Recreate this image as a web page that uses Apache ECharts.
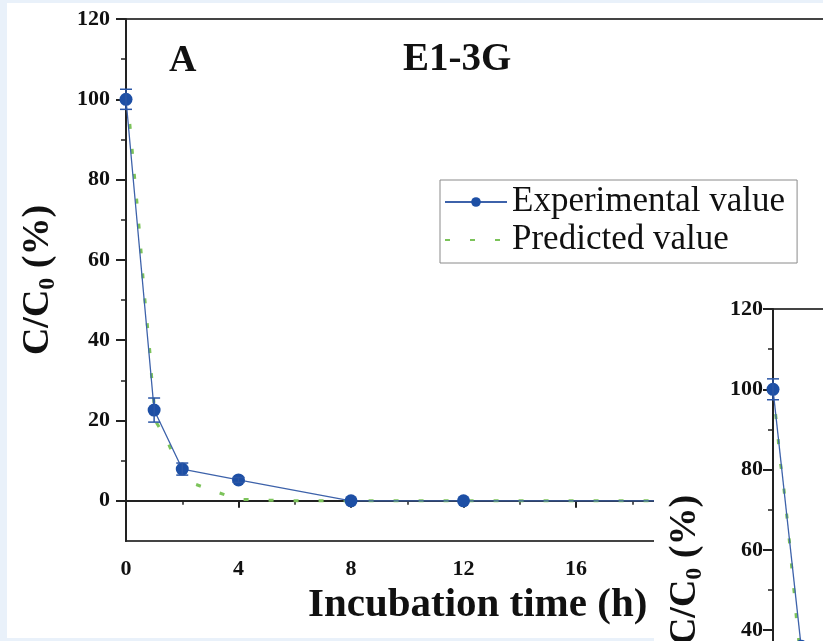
<!DOCTYPE html>
<html><head><meta charset="utf-8">
<script src="https://cdn.jsdelivr.net/npm/echarts@6/dist/echarts.min.js"></script>
<style>
html,body{margin:0;padding:0;background:#e9f1fa;width:823px;height:641px;overflow:hidden;}
#c{position:absolute;left:0;top:0;width:823px;height:641px;}
</style>
</head><body><div id="c"></div>
<script>
// ---- data ----
const timeExpA  = [0, 1, 2, 4, 8, 12, 24];
const valueExpA = [100, 22.6, 7.9, 5.2, 0, 0, 0];
const errorExpA = [2.5, 3.0, 1.5, 0.6, 0, 0, 0];
const timePredA  = [0, 0.12, 0.2, 0.26, 0.34, 0.42, 0.56, 0.62, 0.7, 0.77, 0.85, 0.91, 1.0, 1.09, 1.5, 1.8, 2.28, 3.1, 3.96, 4.8, 6, 8, 12, 16, 20, 26];
const valuePredA = [100, 95, 89, 84, 78, 72, 60, 54, 48, 43, 37, 31, 24, 19.4, 14.4, 9.4, 4.6, 2.5, 0.4, 0.2, 0, 0, 0, 0, 0, 0];

const timeExpB  = [0, 1];
const valueExpB = [100, 36];
const errorExpB = [2.6, 0];
const timePredB  = [0, 0.08, 0.17, 0.24, 0.36, 0.45, 0.54, 0.62, 0.69, 0.77, 0.84, 1.0];
const valuePredB = [100, 94.6, 88.8, 82.9, 77, 71.2, 65.3, 59.5, 53.6, 48.2, 42.3, 32];

const yMajorTicks = [0, 20, 40, 60, 80, 100, 120];
const yMinorTicks = [10, 30, 50, 70, 90, 110];
const seriesNames = ['Experimental value', 'Predicted value'];
const panelTitle = 'A';
const sampleTitle = 'E1-3G';
const xTitle = 'Incubation time (h)';
const yTitle = '{a|C/C}{s|0}{a| (%)}';

// ---- styles ----
const FONT = 'Liberation Serif';
const INK = '#111';
const BLUE = '#1d4fa5';
const BLUE_LINE = '#3d62aa';
const GREEN = '#7cc35a';
const pxPerX = 28.125;
const xMax = 26;
const gridW = xMax * pxPerX;
const gridH = 130 * 4.015;

function pairs(xs, ys) { return xs.map((x, i) => [x, ys[i]]); }
function errData(xs, ys, es) {
  const out = [];
  xs.forEach((x, i) => { if (es[i] > 0) out.push([x, ys[i], es[i]]); });
  return out;
}
function errRender(params, api) {
  const x = api.value(0), v = api.value(1), e = api.value(2);
  const top = api.coord([x, v + e]), bot = api.coord([x, v - e]);
  const hw = 6;
  const style = { stroke: '#2b56a6', lineWidth: 1.5 };
  return { type: 'group', children: [
    { type: 'line', shape: { x1: top[0], y1: top[1], x2: bot[0], y2: bot[1] }, style },
    { type: 'line', shape: { x1: top[0] - hw, y1: top[1], x2: top[0] + hw, y2: top[1] }, style },
    { type: 'line', shape: { x1: bot[0] - hw, y1: bot[1], x2: bot[0] + hw, y2: bot[1] }, style }
  ]};
}

const tickLabel = { fontFamily: FONT, fontWeight: 'bold', fontSize: 22, color: INK };
const richY = {
  a: { fontFamily: FONT, fontWeight: 'bold', fontSize: 38, lineHeight: 44, color: INK },
  s: { fontFamily: FONT, fontWeight: 'bold', fontSize: 24, lineHeight: 24, verticalAlign: 'bottom', color: INK }
};

function xAxisFor(gi, z, showName) {
  return {
    type: 'value', gridIndex: gi, min: 0, max: xMax, interval: 4, z: z,
    axisLine: { show: true, lineStyle: { color: '#222', width: 2 } },
    axisTick: { show: true, length: 7, lineStyle: { color: '#222', width: 2 } },
    minorTick: { show: true, splitNumber: 2, length: 4, lineStyle: { color: '#222', width: 1.5 } },
    splitLine: { show: false }, minorSplitLine: { show: false },
    axisLabel: Object.assign({ margin: 17 }, tickLabel),
    name: showName ? xTitle : '', nameLocation: 'middle', nameGap: 43,
    nameTextStyle: { fontFamily: FONT, fontWeight: 'bold', fontSize: 41, color: INK, padding: [0, 28, 0, 0] }
  };
}
function yMajorFor(gi, z, margin) {
  return {
    type: 'value', gridIndex: gi, min: -10, max: 120, z: z, position: 'left',
    axisLine: { show: true, lineStyle: { color: '#222', width: 2 } },
    axisTick: { show: true, length: 10, customValues: yMajorTicks, lineStyle: { color: '#222', width: 2 } },
    splitLine: { show: false },
    axisLabel: Object.assign({ margin: margin, customValues: yMajorTicks }, tickLabel),
    name: yTitle, nameLocation: 'middle', nameGap: 66,
    nameTextStyle: { rich: richY }
  };
}
function yMinorFor(gi, z) {
  return {
    type: 'value', gridIndex: gi, min: -10, max: 120, z: z, position: 'left',
    axisLine: { show: false },
    axisTick: { show: true, length: 5, customValues: yMinorTicks, lineStyle: { color: '#222', width: 1.5 } },
    splitLine: { show: false },
    axisLabel: { show: false }
  };
}

const chart = echarts.init(document.getElementById('c'), null, { renderer: 'canvas' });
chart.setOption({
  backgroundColor: 'transparent',
  animation: false,
  graphic: [
    { type: 'rect', z: -10, shape: { x: 7, y: 3, width: 816, height: 635 }, style: { fill: '#ffffff' } },
    { type: 'text', z: 5, left: 169, top: 42, style: { text: panelTitle, font: 'bold 38px "Liberation Serif"', fill: INK } },
    { type: 'text', z: 5, left: 403, top: 40, style: { text: sampleTitle, font: 'bold 39px "Liberation Serif"', fill: INK } },
    { type: 'rect', z: 50, shape: { x: 654, y: 285, width: 170, height: 360 }, style: { fill: '#ffffff' } }
  ],
  legend: {
    data: [
      { name: seriesNames[0] },
      { name: seriesNames[1], itemStyle: { opacity: 0 } }
    ],
    orient: 'vertical', left: 440, top: 180,
    padding: [3, 12, 4, 4], itemGap: 0, itemWidth: 62, itemHeight: 12,
    borderColor: '#8a8a8a', borderWidth: 1, backgroundColor: '#fff',
    textStyle: { fontFamily: FONT, fontSize: 35, lineHeight: 38, color: INK }
  },
  grid: [
    { left: 126, top: 19, width: gridW, height: gridH, outerBoundsMode: 'none', containLabel: false, show: true, borderColor: '#444', borderWidth: 2, backgroundColor: 'transparent', z: 0 },
    { left: 773, top: 309, width: gridW, height: gridH, outerBoundsMode: 'none', containLabel: false, show: true, borderColor: '#444', borderWidth: 2, backgroundColor: 'transparent', z: 60 }
  ],
  xAxis: [ xAxisFor(0, 0, true), xAxisFor(1, 60, false) ],
  yAxis: [ yMajorFor(0, 0, 16), yMinorFor(0, 0), yMajorFor(1, 60, 10), yMinorFor(1, 60) ],
  series: [
    { name: seriesNames[1], type: 'line', xAxisIndex: 0, yAxisIndex: 0, data: pairs(timePredA, valuePredA),
      symbol: 'none', lineStyle: { color: GREEN, width: 3, type: [5, 20] }, itemStyle: { color: GREEN }, z: 2 },
    { name: seriesNames[0], type: 'line', xAxisIndex: 0, yAxisIndex: 0, data: pairs(timeExpA, valueExpA),
      symbol: 'circle', symbolSize: 13, lineStyle: { color: BLUE_LINE, width: 1.3 }, itemStyle: { color: BLUE }, z: 3 },
    { name: 'errA', type: 'custom', xAxisIndex: 0, yAxisIndex: 0, data: errData(timeExpA, valueExpA, errorExpA),
      renderItem: errRender, z: 4 },
    { name: seriesNames[1], type: 'line', xAxisIndex: 1, yAxisIndex: 2, data: pairs(timePredB, valuePredB),
      symbol: 'none', lineStyle: { color: GREEN, width: 3, type: [5, 20] }, itemStyle: { color: GREEN }, z: 61 },
    { name: seriesNames[0], type: 'line', xAxisIndex: 1, yAxisIndex: 2, data: pairs(timeExpB, valueExpB),
      symbol: 'circle', symbolSize: 13, lineStyle: { color: BLUE_LINE, width: 1.3 }, itemStyle: { color: BLUE }, z: 62 },
    { name: 'errB', type: 'custom', xAxisIndex: 1, yAxisIndex: 2, data: errData(timeExpB, valueExpB, errorExpB),
      renderItem: errRender, z: 63 }
  ]
});
</script>
</body></html>
